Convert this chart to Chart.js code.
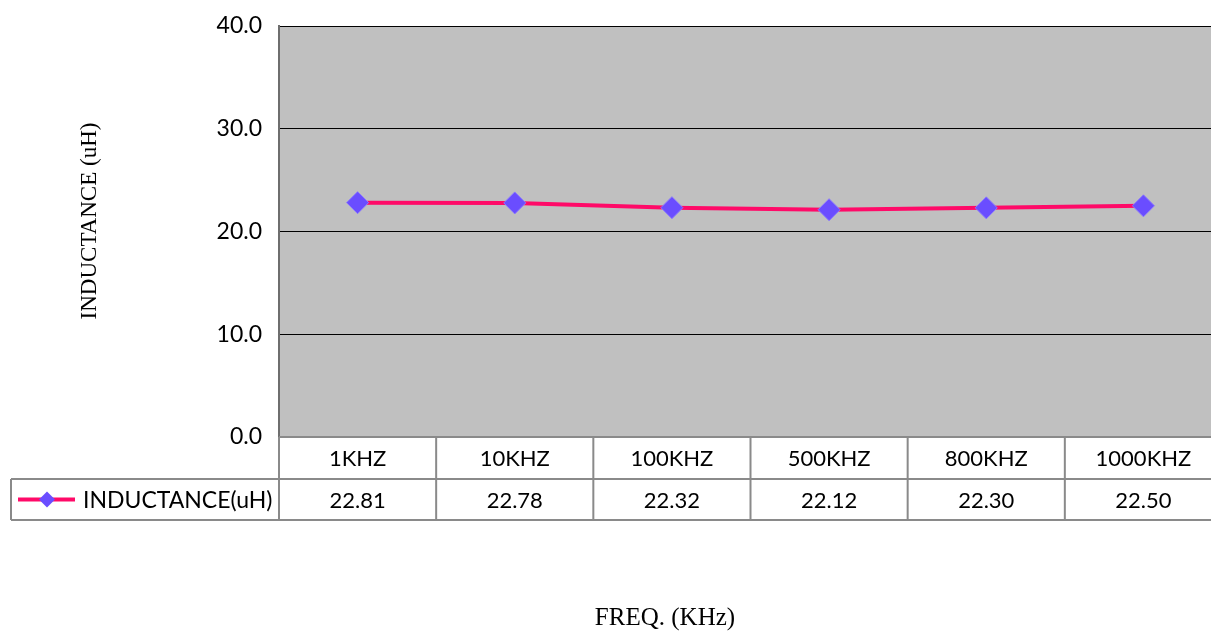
<!DOCTYPE html>
<html>
<head>
<meta charset="utf-8">
<script src="https://cdn.jsdelivr.net/npm/chart.js@4"></script>
<style>
  html, body { margin: 0; padding: 0; background: #fff; overflow: hidden; }
  #wrap { width: 1234px; height: 632px; }
  #chart { width: 1234px; height: 632px; }
</style>
</head>
<body>
<div id="wrap"><canvas id="chart" width="1234" height="632"></canvas></div>
<script>
// chart data
const categories = ['1KHZ', '10KHZ', '100KHZ', '500KHZ', '800KHZ', '1000KHZ'];
const inductance = [22.81, 22.78, 22.32, 22.12, 22.30, 22.50];
const seriesName = 'INDUCTANCE(uH)';
const yTitle = 'INDUCTANCE (uH)';
const xTitle = 'FREQ. (KHz)';

const tableFont = '22px Lato, "Open Sans", sans-serif';
const legendFont = '23px Lato, "Open Sans", sans-serif';
const lineColor = '#FF0A68';
const markerColor = '#6A4DFF';

// gray plot area + data table under the axis
const tablePlugin = {
    id: 'tablePlugin',
    beforeDraw(chart) {
        const { ctx, chartArea } = chart;
        ctx.save();
        ctx.fillStyle = '#C0C0C0';
        ctx.fillRect(chartArea.left, chartArea.top, chartArea.right - chartArea.left, chartArea.bottom - chartArea.top);
        ctx.restore();
    },
    afterDraw(chart) {
        const { ctx, chartArea } = chart;
        const xs = chart.scales.x;
        const colW = (chartArea.right - chartArea.left) / categories.length;
        const top = chartArea.bottom;
        const mid = top + 42;
        const bot = mid + 41;

        ctx.save();
        ctx.strokeStyle = '#8A8A8A';
        ctx.lineWidth = 2;

        // horizontal lines
        ctx.beginPath();
        ctx.moveTo(chartArea.left, top); ctx.lineTo(chartArea.right, top);
        ctx.moveTo(11, mid); ctx.lineTo(chartArea.right, mid);
        ctx.moveTo(11, bot); ctx.lineTo(chartArea.right, bot);
        ctx.moveTo(11, mid); ctx.lineTo(11, bot);
        // column borders
        for (let i = 0; i <= categories.length; i++) {
            const x = chartArea.left + i * colW;
            ctx.moveTo(x, top); ctx.lineTo(x, bot);
        }
        ctx.stroke();

        // texts
        ctx.fillStyle = '#000';
        ctx.font = tableFont;
        ctx.textAlign = 'center';
        ctx.textBaseline = 'middle';
        categories.forEach((c, i) => {
            const cx = xs.getPixelForValue(i);
            ctx.fillText(c, cx, (top + mid) / 2 + 1);
            ctx.fillText(inductance[i].toFixed(2), cx, (mid + bot) / 2 + 1);
        });

        // legend key in table
        const ly = (mid + bot) / 2;
        ctx.strokeStyle = lineColor;
        ctx.lineWidth = 4;
        ctx.beginPath();
        ctx.moveTo(18, ly); ctx.lineTo(75, ly);
        ctx.stroke();
        ctx.fillStyle = markerColor;
        ctx.beginPath();
        ctx.moveTo(47, ly - 8); ctx.lineTo(55, ly); ctx.lineTo(47, ly + 8); ctx.lineTo(39, ly);
        ctx.closePath();
        ctx.fill();
        ctx.fillStyle = '#000';
        ctx.font = legendFont;
        ctx.textAlign = 'left';
        ctx.fillText(seriesName, 83, ly + 1);

        // axis titles
        ctx.font = '23px "Liberation Serif", "DejaVu Serif", serif';
        ctx.textAlign = 'center';
        ctx.save();
        ctx.translate(90, 221);
        ctx.rotate(-Math.PI / 2);
        ctx.fillText(yTitle, 0, 0);
        ctx.restore();
        ctx.font = '25px "Liberation Serif", "DejaVu Serif", serif';
        ctx.fillText(xTitle, 665, 618);
        ctx.restore();
    }
};

function noPad(s) {
    s.paddingTop = 0; s.paddingBottom = 0;
    s.paddingLeft = 0; s.paddingRight = 0;
}

const ctx = document.getElementById('chart').getContext('2d');
new Chart(ctx, {
    type: 'line',
    data: {
        labels: categories,
        datasets: [{
            label: seriesName,
            data: inductance,
            borderColor: lineColor,
            borderWidth: 4,
            pointStyle: 'rectRot',
            pointRadius: 11,
            pointBackgroundColor: markerColor,
            pointBorderColor: '#8A78FF',
            pointBorderWidth: 1,
            tension: 0
        }]
    },
    options: {
        responsive: false,
        maintainAspectRatio: false,
        animation: false,
        devicePixelRatio: 1,
        layout: { padding: { top: 26, left: 0, right: 0, bottom: 0 } },
        plugins: {
            legend: { display: false },
            tooltip: { enabled: false }
        },
        scales: {
            x: {
                type: 'category',
                offset: true,
                grid: { display: false },
                border: { display: false },
                ticks: { display: false },
                afterFit: s => { s.height = 632 - 437; noPad(s); }
            },
            y: {
                min: 0,
                max: 40,
                ticks: {
                    stepSize: 10,
                    color: '#000',
                    font: { family: 'Lato, "Open Sans", sans-serif', size: 23 },
                    padding: 17,
                    callback: v => v.toFixed(1)
                },
                grid: { color: '#000', lineWidth: 1, drawTicks: false },
                border: { color: '#6E6E6E', width: 2 },
                afterFit: s => { s.width = 279; noPad(s); }
            }
        }
    },
    plugins: [tablePlugin]
});
</script>
</body>
</html>
